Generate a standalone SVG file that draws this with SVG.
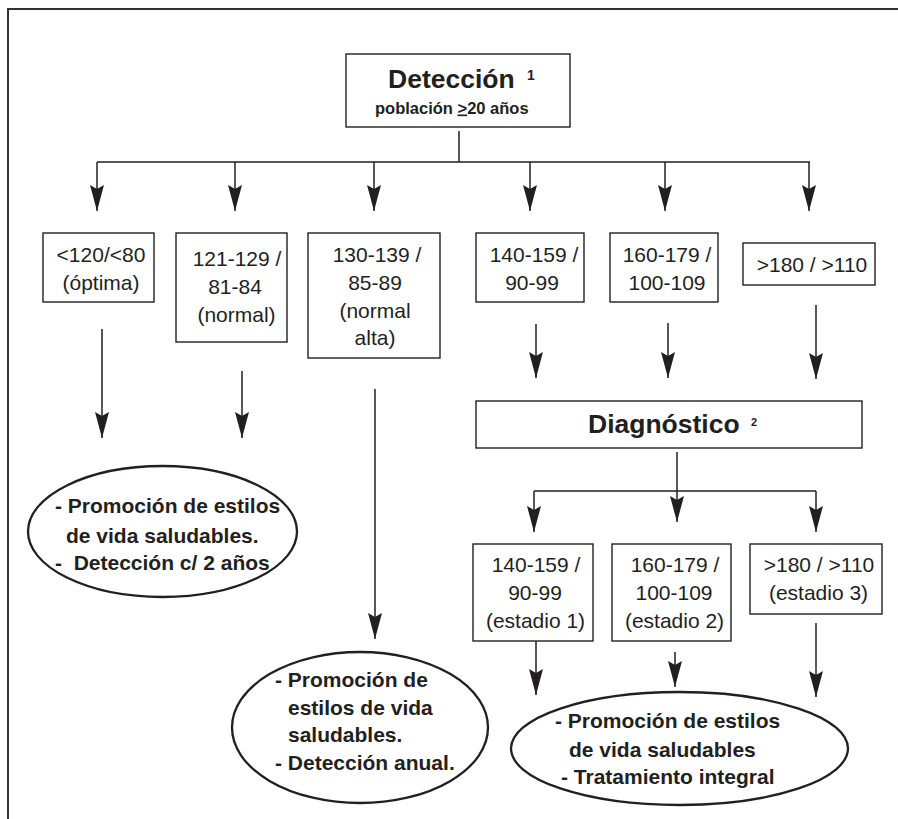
<svg xmlns="http://www.w3.org/2000/svg" width="898" height="819" viewBox="0 0 898 819">
<style>
.box{fill:#fff;stroke:#231f20;stroke-width:1.4}
.ell{fill:#fff;stroke:#231f20;stroke-width:2.3}
.ln{fill:none;stroke:#231f20;stroke-width:1.5}
.arr{fill:none;stroke:#231f20;stroke-width:1.5;marker-end:url(#ah)}
.t{font-family:"Liberation Sans",Arial,Helvetica,sans-serif;fill:#231f20;font-size:21px;text-anchor:middle}
.b{font-family:"Liberation Sans",Arial,Helvetica,sans-serif;fill:#231f20;font-weight:bold}
.e{font-size:21px}
</style>
<defs>
<marker id="ah" markerWidth="27" markerHeight="15" refX="26" refY="7.5" orient="auto" markerUnits="userSpaceOnUse">
<path d="M0,0.5 L26,7.5 L0,14.5 L4,7.5 Z" fill="#231f20"/>
</marker>
</defs>
<rect width="898" height="819" fill="#fff"/>
<g id="frame"><path d="M8,819 V9 H898" fill="none" stroke="#333" stroke-width="2"/></g>

<g id="connectors">
<path class="ln" d="M459,131 V162 M97,162 H810"/>
<line class="arr" x1="97" y1="162" x2="97" y2="211"/>
<line class="arr" x1="235" y1="162" x2="235" y2="211"/>
<line class="arr" x1="374" y1="162" x2="374" y2="211"/>
<line class="arr" x1="530" y1="162" x2="530" y2="211"/>
<line class="arr" x1="665" y1="162" x2="665" y2="211"/>
<line class="arr" x1="809" y1="162" x2="809" y2="211"/>
<line class="arr" x1="102" y1="329" x2="102" y2="438"/>
<line class="arr" x1="242" y1="371" x2="242" y2="438"/>
<line class="arr" x1="375" y1="389" x2="375" y2="639"/>
<line class="arr" x1="536" y1="324" x2="536" y2="378"/>
<line class="arr" x1="668" y1="323" x2="668" y2="378"/>
<line class="arr" x1="816" y1="305" x2="816" y2="379"/>
<line class="arr" x1="677" y1="452" x2="677" y2="522"/>
<path class="ln" d="M534,491 H816"/>
<line class="arr" x1="534" y1="491" x2="534" y2="532"/>
<line class="arr" x1="816" y1="491" x2="816" y2="532"/>
<line class="arr" x1="536" y1="641" x2="536" y2="695"/>
<line class="arr" x1="675" y1="652" x2="675" y2="687"/>
<line class="arr" x1="816" y1="623" x2="816" y2="697"/>
</g>

<g id="deteccion">
<rect class="box" x="346" y="54" width="224" height="73"/>
<text class="b" x="388" y="88" font-size="26.5">Detección</text>
<text class="b" x="527" y="79.5" font-size="14">1</text>
<text class="b" x="375" y="113.5" font-size="16.5">población <tspan text-decoration="underline">&gt;</tspan>20 años</text>
</g>

<g id="n1">
<rect class="box" x="43" y="233" width="111" height="69"/>
<text class="t" x="101" y="262">&lt;120/&lt;80</text>
<text class="t" x="101" y="290">(óptima)</text>
</g>
<g id="n2">
<rect class="box" x="176" y="233" width="111" height="109"/>
<text class="t" x="237" y="266">121-129 /</text>
<text class="t" x="235" y="294">81-84</text>
<text class="t" x="236.5" y="322">(normal)</text>
</g>
<g id="n3">
<rect class="box" x="308" y="233" width="132" height="125"/>
<text class="t" x="377" y="262">130-139 /</text>
<text class="t" x="375" y="290">85-89</text>
<text class="t" x="375" y="318">(normal</text>
<text class="t" x="375" y="345">alta)</text>
</g>
<g id="n4">
<rect class="box" x="476" y="233" width="108" height="69"/>
<text class="t" x="534" y="262">140-159 /</text>
<text class="t" x="532" y="290">90-99</text>
</g>
<g id="n5">
<rect class="box" x="610" y="233" width="108" height="69"/>
<text class="t" x="667" y="262">160-179 /</text>
<text class="t" x="667" y="290">100-109</text>
</g>
<g id="n6">
<rect class="box" x="743" y="243" width="132" height="42"/>
<text class="t" x="812" y="272">&gt;180 / &gt;110</text>
</g>

<g id="diagnostico">
<rect class="box" x="476" y="401" width="386" height="47"/>
<text class="b" x="588" y="433" font-size="26.5">Diagnóstico</text>
<text class="b" x="751" y="426" font-size="11">2</text>
</g>

<g id="n7">
<rect class="box" x="473" y="544" width="120" height="97"/>
<text class="t" x="536" y="572">140-159 /</text>
<text class="t" x="535" y="600">90-99</text>
<text class="t" x="535.5" y="627.5">(estadio 1)</text>
</g>
<g id="n8">
<rect class="box" x="612" y="544" width="119" height="97"/>
<text class="t" x="675" y="572">160-179 /</text>
<text class="t" x="674" y="600">100-109</text>
<text class="t" x="674.5" y="627.5">(estadio 2)</text>
</g>
<g id="n9">
<rect class="box" x="750" y="544" width="132" height="70"/>
<text class="t" x="819" y="572">&gt;180 / &gt;110</text>
<text class="t" x="818.5" y="599.5">(estadio 3)</text>
</g>

<g id="e1">
<ellipse class="ell" cx="162.5" cy="531.5" rx="134.5" ry="65.5"/>
<text class="b e" x="55" y="513" xml:space="preserve">- Promoción de estilos</text>
<text class="b e" x="66" y="543">de vida saludables.</text>
<text class="b e" x="55" y="570" xml:space="preserve">-  Detección c/ 2 años</text>
</g>
<g id="e2">
<ellipse class="ell" cx="360" cy="727.5" rx="128" ry="75.5"/>
<text class="b e" x="275" y="687">- Promoción de</text>
<text class="b e" x="288" y="715">estilos de vida</text>
<text class="b e" x="288" y="742">saludables.</text>
<text class="b e" x="275" y="770">- Detección anual.</text>
</g>
<g id="e3">
<ellipse class="ell" cx="679.5" cy="748.5" rx="168.5" ry="56.5"/>
<text class="b e" x="555" y="728">- Promoción de estilos</text>
<text class="b e" x="569" y="757">de vida saludables</text>
<text class="b e" x="561" y="784">- Tratamiento integral</text>
</g>
</svg>
